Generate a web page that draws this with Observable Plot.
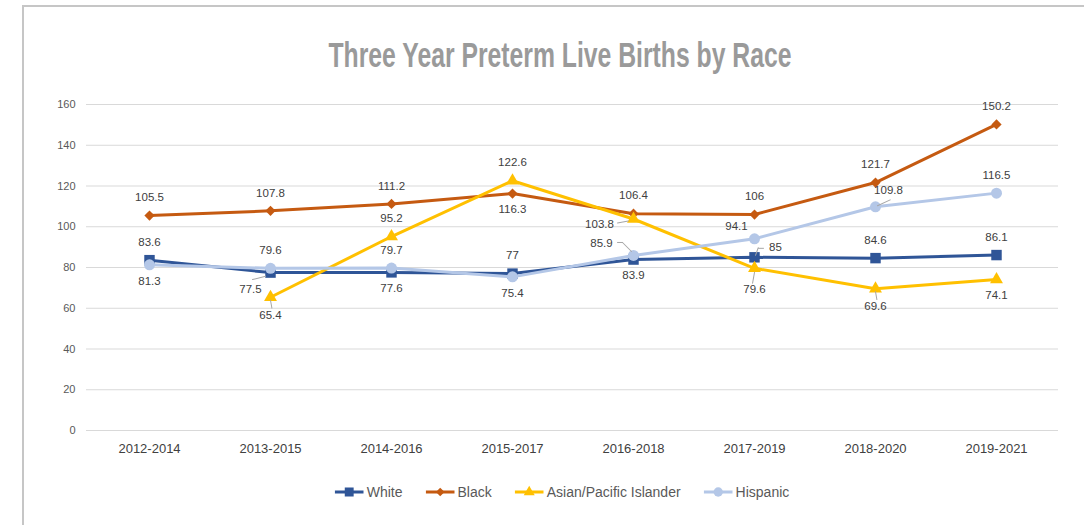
<!DOCTYPE html>
<html>
<head>
<meta charset="utf-8">
<script src="https://cdn.jsdelivr.net/npm/d3@7"></script>
<script src="https://cdn.jsdelivr.net/npm/@observablehq/plot@0.6"></script>
<style>
  html, body { margin: 0; padding: 0; background: #fff; overflow: hidden; width: 1084px; height: 525px; }
  #frame { position: absolute; left: 22px; top: 5px; width: 2000px; height: 2000px; border-left: 2px solid #c6c6c6; border-top: 2px solid #c6c6c6; }
  #title { position: absolute; top: 37px; left: 560px; white-space: nowrap; font-family: "Liberation Sans Narrow", "Liberation Sans", sans-serif; font-weight: bold; font-size: 35px; line-height: 1; color: #9a9a9a; transform-origin: 50% 50%; }
  #chart { position: absolute; left: 0; top: 90px; }
  #legend { position: absolute; top: 484px; left: 562px; transform: translateX(-50%); display: flex; align-items: center; white-space: nowrap; font-family: "Liberation Sans", sans-serif; font-size: 14px; color: #595959; }
  .item { display: flex; align-items: center; margin-right: 23px; }
  .item:last-child { margin-right: 0; }
  .item svg { margin-right: 3px; }
</style>
</head>
<body>
<div id="frame"></div>
<div id="title">Three Year Preterm Live Births by Race</div>
<div id="chart"></div>
<div id="legend"></div>
<script>
// ---- data ----
const periods = ["2012-2014", "2013-2015", "2014-2016", "2015-2017", "2016-2018", "2017-2019", "2018-2020", "2019-2021"];
const seriesNames = ["White", "Black", "Asian/Pacific Islander", "Hispanic"];
const white    = [83.6, 77.5, 77.6, 77, 83.9, 85, 84.6, 86.1];
const black    = [105.5, 107.8, 111.2, 116.3, 106.4, 106, 121.7, 150.2];
const asian    = [null, 65.4, 95.2, 122.6, 103.8, 79.6, 69.6, 74.1];
const hispanic = [81.3, 79.6, 79.7, 75.4, 85.9, 94.1, 109.8, 116.5];
const yTicks = [0, 20, 40, 60, 80, 100, 120, 140, 160];

// ---- styles ----
const seriesColors = ["#2F5597", "#C55A11", "#FFC000", "#B4C7E7"];
const seriesSymbols = ["square", "diamond2", "triangle", "circle"];
const seriesR = [5.9, 4.6, 4.8, 5.5];
// label placement codes per point
const whiteLabelPos    = ["a", "bl", "b", "a", "b", "ar", "a", "a"];
const blackLabelPos    = ["a", "a", "a", "b", "a", "a", "a", "a"];
const asianLabelPos    = [null, "bL", "a", "a", "l", "bL2", "bL", "b"];
const hispanicLabelPos = ["b", "a", "a", "b", "al", "al2", "ar2", "a"];
const labelOffsets = {
  a: [0, -18], b: [0, 16], bl: [-20, 17], ar: [21, -10],
  l: [-34, 5], al: [-32, -12], al2: [-18, -12], ar2: [13, -16],
  bL: [0, 18], bL2: [0, 21]
};
// leader line segments: [code, dx, dy, rotate, length]
const leaderSpecs = [
  ["bl", -18, 7, 76, 13.5],
  ["ar", 1, -2, 20, 8], ["ar", 4, -9, 90, 5],
  ["l", -16, 4, 80, 11],
  ["al", -2, -4, -45, 12.7], ["al", -11, -13, 270, 5],
  ["ar2", 2, -1, 65, 14],
  ["bL", 0, 3, 170, 8],
  ["bL2", 0, 4, 190, 11]
];

const seriesValues = [white, black, asian, hispanic];
const seriesPos = [whiteLabelPos, blackLabelPos, asianLabelPos, hispanicLabelPos];

const rows = [];
seriesNames.forEach((s, si) => {
  periods.forEach((p, i) => {
    const v = seriesValues[si][i];
    if (v != null) rows.push({series: s, period: p, value: v, pos: seriesPos[si][i]});
  });
});

const lineShape = {draw(context, l) { context.moveTo(0, 0); context.lineTo(0, -l); }};

const marks = [
  Plot.gridY(yTicks, {stroke: "#d9d9d9", strokeOpacity: 1, strokeWidth: 1}),
  Plot.axisY(yTicks, {tickSize: 0, tickPadding: 11, fontSize: 11, color: "#595959", label: null}),
  Plot.axisX({tickSize: 0, tickPadding: 13, fontSize: 13, color: "#404040", label: null})
];
seriesNames.forEach((s, si) => {
  const data = rows.filter(d => d.series === s);
  marks.push(Plot.line(data, {x: "period", y: "value", stroke: seriesColors[si], strokeWidth: 3, strokeLinejoin: "round"}));
  marks.push(Plot.dot(data, {x: "period", y: "value", symbol: () => seriesSymbols[si], fill: seriesColors[si], stroke: "none", r: seriesR[si]}));
});
leaderSpecs.forEach(([code, dx, dy, rotate, length]) => {
  marks.push(Plot.vector(rows.filter(d => d.pos === code), {
    x: "period", y: "value", dx, dy, rotate, length, anchor: "start",
    shape: lineShape, stroke: "#a6a6a6", strokeWidth: 1
  }));
});
Object.entries(labelOffsets).forEach(([code, [dx, dy]]) => {
  marks.push(Plot.text(rows.filter(d => d.pos === code), {
    x: "period", y: "value", text: d => String(d.value), dx, dy,
    fontSize: 11.5, fill: "#404040"
  }));
});

const chart = Plot.plot({
  width: 1084, height: 370,
  marginLeft: 86, marginRight: 26, marginTop: 14, marginBottom: 30,
  x: {type: "point", domain: periods, padding: 0.5, label: null, axis: null},
  y: {domain: [0, 160], label: null, axis: null},
  symbol: {type: "identity"},
  style: {fontFamily: "Liberation Sans, sans-serif", background: "transparent", overflow: "visible"},
  marks
});
document.getElementById("chart").appendChild(chart);

// title fit
const title = document.getElementById("title");
const tw = title.getBoundingClientRect().width;
title.style.transform = `translateX(-50%) scaleX(${463 / tw})`;

// legend
const legend = document.getElementById("legend");
const symMap = {square: d3.symbolSquare, diamond2: d3.symbolDiamond2, triangle: d3.symbolTriangle, circle: d3.symbolCircle};
seriesNames.forEach((s, si) => {
  const item = document.createElement("div");
  item.className = "item";
  const svg = d3.create("svg").attr("width", 29).attr("height", 14);
  svg.append("line").attr("x1", 0).attr("x2", 29).attr("y1", 7).attr("y2", 7)
    .attr("stroke", seriesColors[si]).attr("stroke-width", 3);
  const r = seriesR[si] * 0.85;
  svg.append("path").attr("transform", "translate(14.5,7)")
    .attr("d", d3.symbol(symMap[seriesSymbols[si]], Math.PI * r * r)())
    .attr("fill", seriesColors[si]);
  item.appendChild(svg.node());
  const t = document.createElement("span");
  t.textContent = s;
  item.appendChild(t);
  legend.appendChild(item);
});
</script>
</body>
</html>
